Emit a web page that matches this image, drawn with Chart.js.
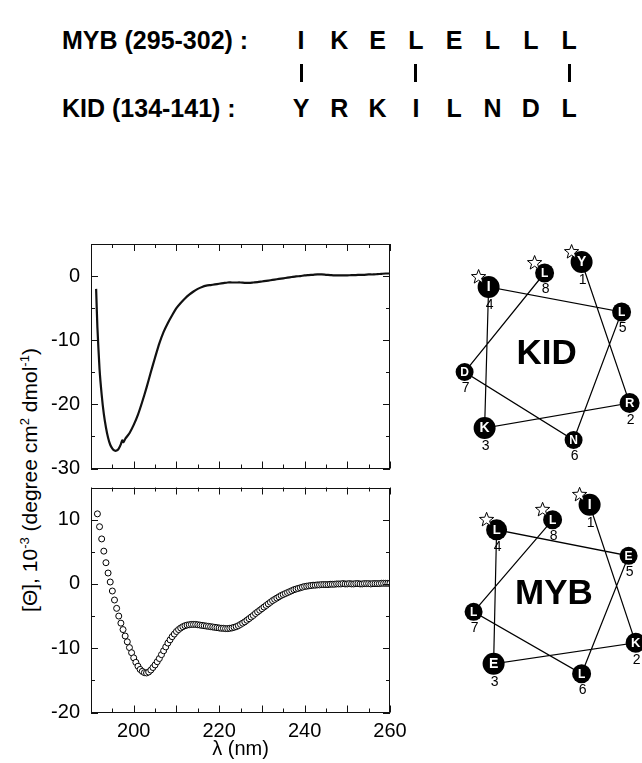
<!DOCTYPE html>
<html><head><meta charset="utf-8">
<script src="https://cdn.jsdelivr.net/npm/chart.js@4"></script>
<style>
html,body{margin:0;padding:0;background:#fff;}
body{width:642px;height:763px;position:relative;overflow:hidden;font-family:"Liberation Sans",Arial,sans-serif;color:#000;}
canvas{position:absolute;}
.seqname{position:absolute;left:62px;font-weight:bold;font-size:25px;line-height:25px;white-space:nowrap;}
.res{position:absolute;width:30px;text-align:center;font-weight:bold;font-size:25px;line-height:25px;}
.bar{position:absolute;width:3px;height:18px;top:64px;background:#000;}
#ytitle{position:absolute;left:30px;top:480px;transform:translate(-50%,-50%) rotate(-90deg);font-size:21px;white-space:nowrap;line-height:24px;}
#ytitle sup{font-size:13px;vertical-align:8px;line-height:0;}
</style></head><body>
<div id="top"></div>
<div id="ytitle">[&Theta;], 10<sup>-3</sup> (degree cm<sup>2</sup> dmol<sup>-1</sup>)</div>
<canvas id="cdTop" width="420" height="246" style="left:0;top:234px;"></canvas>
<canvas id="cdBottom" width="420" height="285" style="left:0;top:478px;"></canvas>
<canvas id="wheelKid" width="222" height="236" style="left:420px;top:236px;"></canvas>
<canvas id="wheelMyb" width="222" height="236" style="left:420px;top:476px;"></canvas>
<script>
// ---------------- DATA ----------------
const mybName = 'MYB (295-302) :';
const kidName = 'KID (134-141) :';
const mybSequence = ['I','K','E','L','E','L','L','L'];
const kidSequence = ['Y','R','K','I','L','N','D','L'];
const identicalPositions = [1, 4, 8];

// KID CD spectrum (upper panel, solid line)
const kidWavelength = [191.2,191.5,192,192.5,193,193.5,194,194.5,195,195.5,196,196.5,197,197.3,197.6,
  198,199,200,201,202,203,204,205,206,207,208,209,210,211,212,213,214,215,216,217,218,219,220,
  221,222,223,224,225,226,227,228,229,230,231,232,233,234,235,236,237,238,239,240,
  241,242,243,244,245,246,247,248,249,250,251,252,253,254,255,256,257,258,259,260];
const kidTheta = [-2.0,-8.0,-14.5,-18.5,-21.5,-23.6,-25.2,-26.3,-26.9,-27.2,-27.2,-26.9,-26.2,-25.6,-25.9,
  -25.4,-24.5,-23.2,-21.6,-19.6,-17.4,-15.0,-12.7,-10.5,-8.7,-7.3,-6.1,-5.0,-4.2,-3.5,-2.9,-2.4,-2.0,-1.7,-1.5,-1.4,-1.3,-1.2,
  -1.1,-1.0,-1.0,-1.0,-1.0,-1.05,-1.05,-1.0,-0.95,-0.85,-0.75,-0.65,-0.55,-0.45,-0.35,-0.25,-0.15,-0.05,0.0,0.1,
  0.15,0.2,0.25,0.25,0.2,0.15,0.1,0.1,0.1,0.1,0.15,0.15,0.2,0.2,0.25,0.25,0.3,0.35,0.4,0.4];

// MYB CD spectrum (lower panel, open circles)
const mybWavelength = [191.5,192,192.5,193,193.5,194,194.5,195,195.5,196,196.5,197,197.5,198,198.5,199,199.5,
  200,200.5,201,201.5,202,202.5,203,203.5,204,204.5,205,205.5,206,206.5,207,207.5,208,208.5,209,209.5,
  210,210.5,211,211.5,212,212.5,213,213.5,214,214.5,215,215.5,216,216.5,217,217.5,218,218.5,219,219.5,
  220,220.5,221,221.5,222,222.5,223,223.5,224,224.5,225,225.5,226,226.5,227,227.5,228,228.5,229,229.5,
  230,230.5,231,231.5,232,232.5,233,233.5,234,234.5,235,235.5,236,236.5,237,237.5,238,238.5,239,239.5,
  240,240.5,241,241.5,242,242.5,243,243.5,244,244.5,245,245.5,246,246.5,247,247.5,248,248.5,249,249.5,
  250,250.5,251,251.5,252,252.5,253,253.5,254,254.5,255,255.5,256,256.5,257,257.5,258,258.5,259,259.5,260];
const mybTheta = [10.9,8.9,7.0,5.1,3.3,1.7,0.3,-1.1,-2.5,-3.8,-5.0,-6.1,-7.1,-8.1,-9.0,-9.9,-10.7,
  -11.5,-12.2,-12.8,-13.3,-13.6,-13.8,-13.85,-13.7,-13.4,-13.0,-12.6,-12.1,-11.6,-11.0,-10.4,-9.8,-9.2,-8.7,-8.2,-7.8,
  -7.4,-7.1,-6.85,-6.65,-6.5,-6.4,-6.35,-6.3,-6.3,-6.3,-6.35,-6.4,-6.45,-6.5,-6.55,-6.6,-6.65,-6.7,-6.75,-6.8,
  -6.85,-6.9,-6.9,-6.95,-6.95,-6.9,-6.85,-6.75,-6.65,-6.5,-6.3,-6.1,-5.9,-5.65,-5.4,-5.15,-4.9,-4.6,-4.35,-4.1,
  -3.85,-3.6,-3.35,-3.1,-2.85,-2.6,-2.4,-2.2,-2.0,-1.8,-1.65,-1.5,-1.35,-1.2,-1.05,-0.9,-0.8,-0.7,-0.6,-0.5,
  -0.4,-0.35,-0.3,-0.25,-0.2,-0.2,-0.15,-0.15,-0.1,-0.1,-0.1,-0.1,-0.05,-0.05,-0.05,0,0,0,0.05,0,
  0,0.05,0,0,0.05,0.05,0,0,0.05,0.05,0.05,0,0.05,0.05,0.05,0.05,0.1,0.1,0.1,0.1,0.1];

// tick labels
const xTickLabels = [200, 220, 240, 260];
const upperYTickLabels = [0, -10, -20, -30];
const lowerYTickLabels = [10, 0, -10, -20];
const xAxisTitle = 'λ (nm)';

// helical wheels (positions in wheel units, y up, relative to wheel centre)
const kidWheelResidues = ['Y','R','K','I','L','N','D','L'];
const kidWheelX = [33, 81, -64, -60, 73, 25, -84, -4];
const kidWheelY = [85, -56, -81, 60, 35, -93, -25, 74];
const kidStarred = [1, 4, 8];
const mybWheelResidues = ['I','K','E','L','E','L','L','L'];
const mybWheelX = [33, 79, -63, -60, 72, 25, -83, -4];
const mybWheelY = [83, -55, -76, 58, 32, -86, -24, 68];
const mybStarred = [1, 4, 8];

// ---------------- STYLE / LAYOUT ----------------
const FONT = '"Liberation Sans", Arial, sans-serif';
const kidRadius = [11, 10, 11, 11, 9.5, 9, 9, 9.5];
const mybRadius = [11, 10, 11, 10.5, 9, 9.5, 9, 9.5];

// top sequence alignment (HTML text)
(function(){
  const top = document.getElementById('top');
  function add(cls, text, left, t){ const d=document.createElement('div'); d.className=cls; d.textContent=text; if(left!=null) d.style.left=left+'px'; d.style.top=t+'px'; top.appendChild(d); return d; }
  add('seqname', mybName, null, 28);
  add('seqname', kidName, null, 96);
  const colX = i => 301 + 38.3*i;
  mybSequence.forEach((r,i)=>add('res', r, colX(i)-15, 28));
  kidSequence.forEach((r,i)=>add('res', r, colX(i)-15, 96));
  identicalPositions.forEach(p=>{ const b=document.createElement('div'); b.className='bar'; b.style.left=(colX(p-1)-1.5)+'px'; top.appendChild(b); });
})();

Chart.defaults.font.family = FONT;
Chart.defaults.color = '#000';

const framePlugin = {
  id: 'frame',
  afterDraw(chart) {
    const {ctx, chartArea: a, scales: {x, y}} = chart;
    ctx.save();
    ctx.strokeStyle = '#111'; ctx.lineWidth = 1;
    ctx.strokeRect(Math.round(a.left)+0.5, Math.round(a.top)+0.5, Math.round(a.right-a.left)-1, Math.round(a.bottom-a.top)-1);
    ctx.beginPath();
    for (let v = x.min; v <= x.max + 1e-6; v += 5) {
      const px = Math.round(x.getPixelForValue(v)) + 0.5;
      const len = (Math.round(v) % 10 === 0) ? 7 : 4;
      ctx.moveTo(px, a.bottom); ctx.lineTo(px, a.bottom - len);
      ctx.moveTo(px, a.top); ctx.lineTo(px, a.top + len);
    }
    for (let v = y.min; v <= y.max + 1e-6; v += 5) {
      const py = Math.round(y.getPixelForValue(v)) + 0.5;
      const len = (Math.round(v) % 10 === 0) ? 7 : 4;
      ctx.moveTo(a.left, py); ctx.lineTo(a.left + len, py);
      ctx.moveTo(a.right, py); ctx.lineTo(a.right - len, py);
    }
    ctx.stroke();
    ctx.restore();
  }
};

function zeroPad(s) { s.paddingLeft = 0; s.paddingRight = 0; s.paddingTop = 0; s.paddingBottom = 0; }

function yAxis(min, max, labels) {
  return {
    type: 'linear', min, max,
    afterBuildTicks: s => { s.ticks = labels.map(v => ({value: v})); },
    afterFit: s => { s.width = 91; zeroPad(s); },
    ticks: { font: {size: 20}, color: '#000', padding: 11, callback: v => String(v) },
    grid: { display: false, drawTicks: false },
    border: { display: false }
  };
}

new Chart(document.getElementById('cdTop'), {
  type: 'scatter',
  data: { datasets: [{
    data: kidWavelength.map((w,i)=>({x:w, y:kidTheta[i]})),
    showLine: true, borderColor: '#111', borderWidth: 2.2, pointRadius: 0, tension: 0.2
  }]},
  options: {
    responsive: false, animation: false, events: [],
    layout: { padding: {top: 10, right: 30, bottom: 11.5, left: 0}, autoPadding: false },
    plugins: { legend: {display: false}, tooltip: {enabled: false} },
    scales: {
      x: { type: 'linear', min: 190, max: 260, display: false, afterFit: zeroPad },
      y: yAxis(-30, 5, upperYTickLabels)
    }
  },
  plugins: [framePlugin]
});

new Chart(document.getElementById('cdBottom'), {
  type: 'scatter',
  data: { datasets: [{
    data: mybWavelength.map((w,i)=>({x:w, y:mybTheta[i]})),
    showLine: false, pointRadius: 3, pointBorderWidth: 1,
    pointBackgroundColor: '#fff', pointBorderColor: '#000'
  }]},
  options: {
    responsive: false, animation: false, events: [],
    layout: { padding: {top: 9.5, right: 30, bottom: 0, left: 0}, autoPadding: false },
    plugins: { legend: {display: false}, tooltip: {enabled: false} },
    scales: {
      x: {
        type: 'linear', min: 190, max: 260,
        afterBuildTicks: s => { s.ticks = xTickLabels.map(v => ({value: v})); },
        afterFit: s => { s.height = 50.5; zeroPad(s); },
        ticks: { font: {size: 20}, color: '#000', padding: 7, maxRotation: 0, autoSkip: false, callback: v => String(v) },
        grid: { display: false, drawTicks: false },
        border: { display: false },
        title: { display: true, text: xAxisTitle, font: {size: 20, lineHeight: 1.2}, color: '#000', padding: {top: 0, bottom: 2} }
      },
      y: yAxis(-20, 15, lowerYTickLabels)
    }
  },
  plugins: [framePlugin]
});

function drawStar(ctx, cx, cy, ro, ri) {
  ctx.beginPath();
  for (let k = 0; k < 10; k++) {
    const r = k % 2 === 0 ? ro : ri;
    const a = -Math.PI/2 + k * Math.PI/5;
    const px = cx + r*Math.cos(a), py = cy + r*Math.sin(a);
    if (k === 0) ctx.moveTo(px, py); else ctx.lineTo(px, py);
  }
  ctx.closePath();
  ctx.fillStyle = '#fff'; ctx.fill();
  ctx.strokeStyle = '#000'; ctx.lineWidth = 1; ctx.stroke();
}

const wheelPlugin = {
  id: 'wheelLabels',
  afterDatasetsDraw(chart) {
    const w = chart.config.options.wheel;
    const ctx = chart.ctx;
    const meta = chart.getDatasetMeta(0);
    ctx.save();
    ctx.textAlign = 'center'; ctx.textBaseline = 'middle';
    meta.data.forEach((pt, i) => {
      const r = w.radius[i];
      ctx.fillStyle = '#fff';
      ctx.font = 'bold ' + Math.max(12, Math.round(r*1.25)) + 'px ' + FONT;
      ctx.fillText(w.residues[i], pt.x, pt.y + 0.5);
      ctx.fillStyle = '#000';
      ctx.font = '14px ' + FONT;
      ctx.fillText(String(i+1), pt.x + 1, pt.y + r + 7);
    });
    meta.data.forEach((pt, i) => {
      if (w.stars.includes(i+1)) drawStar(ctx, pt.x - 10, pt.y - 10, 7.5, 3.2);
    });
    ctx.fillStyle = '#000';
    ctx.font = 'bold 35px ' + FONT;
    ctx.fillText(w.name, chart.scales.x.getPixelForValue(w.nameX), chart.scales.y.getPixelForValue(w.nameY));
    ctx.restore();
  }
};

function wheelChart(id, xs, ys, residues, radius, stars, name, nameX, nameY, xr, yr) {
  new Chart(document.getElementById(id), {
    type: 'scatter',
    data: { datasets: [{
      data: xs.map((v,i)=>({x:v, y:ys[i]})),
      showLine: true, borderColor: '#000', borderWidth: 1.2, tension: 0,
      pointRadius: radius, pointHoverRadius: radius, pointBackgroundColor: '#000', pointBorderColor: '#000', pointBorderWidth: 0, clip: false
    }]},
    options: {
      responsive: false, animation: false, events: [],
      layout: { padding: 0, autoPadding: false },
      plugins: { legend: {display: false}, tooltip: {enabled: false} },
      scales: {
        x: { type: 'linear', min: xr[0], max: xr[1], display: false, afterFit: zeroPad },
        y: { type: 'linear', min: yr[0], max: yr[1], display: false, afterFit: zeroPad }
      },
      wheel: { residues, radius, stars, name, nameX, nameY }
    },
    plugins: [wheelPlugin]
  });
}

wheelChart('wheelKid', kidWheelX, kidWheelY, kidWheelResidues, kidRadius, kidStarred, 'KID', -2, -7, [-128.6, 93.4], [-125, 111]);
wheelChart('wheelMyb', mybWheelX, mybWheelY, mybWheelResidues, mybRadius, mybStarred, 'MYB', -2.6, -6.2, [-136.6, 85.4], [-124.2, 111.8]);
</script>
</body></html>
